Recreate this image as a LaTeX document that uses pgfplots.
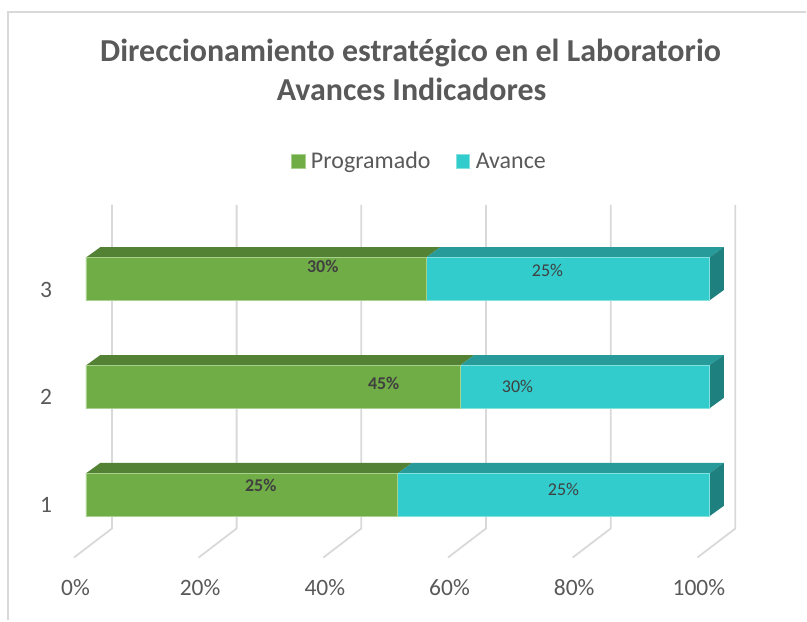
\documentclass[border=0pt]{standalone}
\usepackage{fontspec}
\setmainfont{Carlito}
\usepackage{pgfplots}
\usepackage{pgfplotstable}
\pgfplotsset{compat=1.18}
\definecolor{gProg}{HTML}{70AD47}
\definecolor{gProgEdge}{HTML}{A9D18E}
\definecolor{gProgTop}{HTML}{548235}
\definecolor{cAv}{HTML}{33CCCC}
\definecolor{cAvEdge}{HTML}{85E0E0}
\definecolor{cAvTop}{HTML}{279A9A}
\definecolor{cAvSide}{HTML}{1F8080}
\definecolor{gridc}{HTML}{D9D9D9}
\definecolor{txt}{HTML}{595959}
\definecolor{lbl}{HTML}{404040}

% raw values, their share of the bar (100 % stacked), and where Excel put the labels
\pgfplotstableread{
cat prog avan progpct avanpct plx ply alx aly
1 25 25 50 50 28.04 1.086 76.60 1.049
2 45 30 60 40 47.76 2.030 69.23 2.003
3 30 25 54.545 45.455 37.98 3.114 74.04 3.077
}\datatab

\begin{document}
\begin{tikzpicture}
\pgfplotsset{base/.style={scale only axis, width=807pt, height=621pt,
  xmin=-13.782, xmax=115.545, ymin=-0.1639, ymax=5.5861,
  hide axis, clip=false}}
\begin{axis}[base]
  \path (rel axis cs:0,0) rectangle (rel axis cs:1,1);
  % border
  \draw[gridc, line width=1.5pt] (axis cs:-12.5,-0.1639) -- (axis cs:-12.5,5.475) -- (axis cs:115.545,5.475);
  % grid lines (back wall + floor)
  \addplot[gridc, line width=1.8pt, mark=none] coordinates {(4.17,3.688) (4.17,0.688) (-1.92,0.419)};
  \addplot[gridc, line width=1.8pt, mark=none] coordinates {(24.17,3.688) (24.17,0.688) (18.08,0.419)};
  \addplot[gridc, line width=1.8pt, mark=none] coordinates {(44.17,3.688) (44.17,0.688) (38.08,0.419)};
  \addplot[gridc, line width=1.8pt, mark=none] coordinates {(64.17,3.688) (64.17,0.688) (58.08,0.419)};
  \addplot[gridc, line width=1.8pt, mark=none] coordinates {(84.17,3.688) (84.17,0.688) (78.08,0.419)};
  \addplot[gridc, line width=1.8pt, mark=none] coordinates {(104.17,3.688) (104.17,0.688) (98.08,0.419)};
  % top faces Programado
  \addplot[fill=gProgTop, draw=none] coordinates {(0,1.199) (50,1.199) (52.32,1.296) (2.32,1.296)} -- cycle;
  \addplot[fill=gProgTop, draw=none] coordinates {(0,2.199) (60,2.199) (62.32,2.296) (2.32,2.296)} -- cycle;
  \addplot[fill=gProgTop, draw=none] coordinates {(0,3.199) (54.545,3.199) (56.865,3.296) (2.32,3.296)} -- cycle;
  % top faces Avance
  \addplot[fill=cAvTop, draw=none] coordinates {(50,1.199) (100,1.199) (102.32,1.296) (52.32,1.296)} -- cycle;
  \addplot[fill=cAvTop, draw=none] coordinates {(60,2.199) (100,2.199) (102.32,2.296) (62.32,2.296)} -- cycle;
  \addplot[fill=cAvTop, draw=none] coordinates {(54.545,3.199) (100,3.199) (102.32,3.296) (56.865,3.296)} -- cycle;
  % side faces Avance
  \addplot[fill=cAvSide, draw=none] coordinates {(100,0.801) (100,1.199) (102.32,1.296) (102.32,0.898)} -- cycle;
  \addplot[fill=cAvSide, draw=none] coordinates {(100,1.801) (100,2.199) (102.32,2.296) (102.32,1.898)} -- cycle;
  \addplot[fill=cAvSide, draw=none] coordinates {(100,2.801) (100,3.199) (102.32,3.296) (102.32,2.898)} -- cycle;
  % title
  \node[anchor=base, font=\fontsize{32}{36}\selectfont\bfseries, text=txt] at (axis cs:52.08,5.012) {Direccionamiento estratégico en el Laboratorio};
  \node[anchor=base, font=\fontsize{32}{36}\selectfont\bfseries, text=txt] at (axis cs:52.24,4.656) {Avances Indicadores};
  % x tick labels
  \node[anchor=base, font=\fontsize{23.5}{26}\selectfont, text=txt] at (axis cs:-1.68,0.063) {0\%};
  \node[anchor=base, font=\fontsize{23.5}{26}\selectfont, text=txt] at (axis cs:18.32,0.063) {20\%};
  \node[anchor=base, font=\fontsize{23.5}{26}\selectfont, text=txt] at (axis cs:38.32,0.063) {40\%};
  \node[anchor=base, font=\fontsize{23.5}{26}\selectfont, text=txt] at (axis cs:58.32,0.063) {60\%};
  \node[anchor=base, font=\fontsize{23.5}{26}\selectfont, text=txt] at (axis cs:78.32,0.063) {80\%};
  \node[anchor=base, font=\fontsize{23.5}{26}\selectfont, text=txt] at (axis cs:98.32,0.063) {100\%};
  % y category labels
  \node[font=\fontsize{23.5}{26}\selectfont, text=txt] at (axis cs:-6.41,0.910) {1};
  \node[font=\fontsize{23.5}{26}\selectfont, text=txt] at (axis cs:-6.41,1.911) {2};
  \node[font=\fontsize{23.5}{26}\selectfont, text=txt] at (axis cs:-6.41,2.901) {3};
\end{axis}
\begin{axis}[base, xbar stacked, bar width=0.398,
  legend columns=2,
  legend style={at={(rel axis cs:0.5225,0.740)}, anchor=center, draw=none, fill=none,
    font=\fontsize{24}{26}\selectfont, nodes={text=txt, inner xsep=5.5pt},
    /tikz/every even column/.append style={column sep=20pt}},
  legend image code/.code={\fill (0pt,-6.75pt) rectangle (13.5pt,6.75pt);}]
  \addplot[fill=gProg, draw=gProgEdge, line width=0.8pt] table[x=progpct, y=cat]{\datatab};
  \addplot[fill=cAv, draw=cAvEdge, line width=0.8pt] table[x=avanpct, y=cat]{\datatab};
  \legend{Programado, Avance}
\end{axis}
\begin{axis}[base]
  % data labels (raw values)
  \addplot[draw=none, mark=none, point meta=explicit symbolic,
    nodes near coords={\pgfplotspointmeta\%},
    every node near coord/.append style={anchor=center, inner sep=0pt,
      font=\fontsize{18}{20}\selectfont\bfseries, text=lbl}]
    table[x=plx, y=ply, meta=prog]{\datatab};
  \addplot[draw=none, mark=none, point meta=explicit symbolic,
    nodes near coords={\pgfplotspointmeta\%},
    every node near coord/.append style={anchor=center, inner sep=0pt,
      font=\fontsize{18}{20}\selectfont, text=lbl}]
    table[x=alx, y=aly, meta=avan]{\datatab};
\end{axis}
\end{tikzpicture}
\end{document}
